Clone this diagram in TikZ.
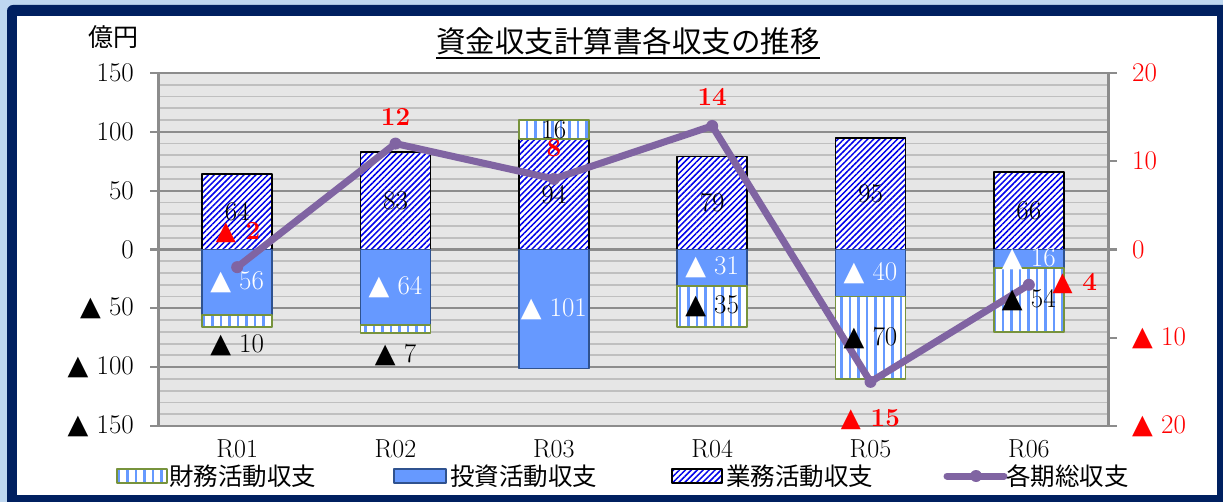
\documentclass[tikz,border=0pt]{standalone}
\usepackage{fontspec}
\usetikzlibrary{patterns.meta}
\newfontfamily\jpfont{Noto Sans CJK JP}
\newfontfamily\symfont{DejaVu Sans}
\newcommand\tri{{\symfont ▲}}
\newcommand\fsz[1]{\fontsize{#1}{#1}\selectfont}
\definecolor{navy}{RGB}{0,32,96}
\definecolor{glow}{RGB}{190,215,240}
\definecolor{plotbg}{RGB}{230,230,230}
\definecolor{minorgray}{RGB}{191,191,191}
\definecolor{majorgray}{RGB}{140,140,140}
\definecolor{invblue}{RGB}{102,153,255}
\definecolor{invedge}{RGB}{47,82,143}
\definecolor{fingreen}{RGB}{119,147,60}
\definecolor{hatchblue}{RGB}{0,0,235}
\definecolor{totpurple}{RGB}{128,100,162}
\begin{document}
\begin{tikzpicture}[x=1pt, y=-1pt, line join=round, font=\fsz{27},
	lax/.style={yshift=-249.5pt, y=1.17667pt},
	rax/.style={yshift=-249.5pt, y=8.825pt},
	minorgrid/.style={minorgray, line width=1.8pt},
	majorgrid/.style={majorgray, line width=2.2pt},
	bizbar/.style={preaction={fill=white}, pattern={Lines[angle=45,distance=4.2pt,line width=1.5pt]}, pattern color=hatchblue, draw=black, line width=1.8pt},
	invbar/.style={fill=invblue, draw=invedge, line width=1.5pt},
	finbar/.style={preaction={fill=white}, pattern={Lines[angle=90,distance=8.5pt,line width=2.5pt]}, pattern color=invblue, draw=fingreen, line width=1.8pt},
	totline/.style={totpurple, line width=7pt, line cap=round},
	legtext/.style={font=\jpfont\fsz{24.5}, anchor=west, inner sep=0pt},
	redlab/.style={text=red, font=\fsz{26}\bfseries}]
	\def\xl{158} \def\xr{1108} \def\cw{158.333} \def\bw{35} % plot area
	\useasboundingbox (0,0) rectangle (1223,502);
	\clip (0,0) rectangle (1223,502);
	% frame
	\fill[glow] (0,0) rectangle (1223,502);
	\fill[navy, rounded corners=6pt] (7,5) rectangle (1240,520);
	\fill[white] (17,16) rectangle (1217,495);
	\node[font=\jpfont\fsz{29.5}, inner sep=0pt] (title) at (628,41) {資金収支計算書各収支の推移};
	\draw[line width=1.8pt] ([yshift=-3pt]title.south west) -- ([yshift=-3pt]title.south east);
	\node[font=\jpfont\fsz{25}] (unit) at (113,37) {億円};
	% bars on the left axis
	\begin{scope}[lax]
		\fill[plotbg] (\xl,-150) rectangle (\xr,150);
		\foreach \v in {-140,-130,...,140}
		\draw[minorgrid] (\xl,\v) -- (\xr,\v);
		\foreach \v/\t in {150/150,100/100,50/50,0/0,-50/\tri{} 50,-100/\tri{} 100,-150/\tri{} 150}{
			\draw[majorgrid] (150,\v) -- (\xr,\v);
			\node[anchor=east, inner sep=0pt] (ly\v) at (134,\v) {\t};
		}
		\foreach \i/\b/\v/\f in {1/64/-56/-10,2/83/-64/-7,3/94/-101/16,4/79/-31/-35,5/95/-40/-70,6/66/-16/-54}{
			\pgfmathsetmacro\cx{\xl+(\i-0.5)*\cw}
			\pgfmathsetmacro\fb{\f<0 ? \v : \b}
			\pgfmathsetmacro\ft{\fb+\f}
			\path[bizbar] (\cx-\bw,0) rectangle (\cx+\bw,\b);
			\path[invbar] (\cx-\bw,0) rectangle (\cx+\bw,\v);
			\path[finbar] (\cx-\bw,\fb) rectangle (\cx+\bw,\ft);
		}
		\draw[majorgray, line width=3pt] (\xl,-150) -- (\xl,150) (\xr,-150) -- (\xr,150);
	\end{scope}
	% total on the right axis
	\begin{scope}[rax]
		\foreach \r/\t in {20/20,10/10,0/0,-10/\tri{} 10,-20/\tri{} 20}{
			\draw[majorgrid] (\xr,\r) -- (1117,\r);
			\node[anchor=west, inner sep=0pt, text=red] (ry\r) at (1132,\r) {\t};
		}
		\foreach \i/\s in {1/-2,2/12,3/8,4/14,5/-15,6/-4}
		\coordinate (p\i) at ({\xl+(\i-0.5)*\cw},\s);
		\draw[totline] (p1) -- (p2) -- (p3) -- (p4) -- (p5) -- (p6);
		\foreach \i in {1,...,6}
		\fill[totpurple] (p\i) circle (6pt);
		\foreach \i/\dx/\s/\t in {1/1/1.9/\tri{} 2,2/0/15/12,3/0/11.5/8,4/0/17.3/14,5/0/-19.3/\tri{} 15,6/46/-3.9/\tri{} 4}
		\node[redlab] (tl\i) at ({\xl+(\i-0.5)*\cw+\dx},\s) {\t};
	\end{scope}
	% data labels
	\begin{scope}[lax]
		\foreach \i/\b/\v/\vt/\fy/\ft in {1/64/-56/56/-81.2/\tri{} 10,2/83/-64/64/-89.7/\tri{} 7,3/94/-101/101/102/16,4/79/-31/31/-48.5/\tri{} 35,5/95/-40/40/-75/\tri{} 70,6/66/-16/16/-43/\tri{} 54}{
			\pgfmathsetmacro\cx{\xl+(\i-0.5)*\cw}
			\node (bl\i) at (\cx,\b/2) {\b};
			\node[text=white] (il\i) at (\cx,\v/2) {\tri{} \vt};
			\node (fl\i) at (\cx,\fy) {\ft};
		}
	\end{scope}
	% categories
	\foreach \i in {1,...,6}
	\node[font=\fsz{26}] (cat\i) at ({\xl+(\i-0.5)*\cw},449) {R0\i};
	% legend
	\path[finbar] (117,469) rectangle (167,483);
	\node[legtext] (leg1) at (169,476) {財務活動収支};
	\path[invbar] (394,469) rectangle (446,483);
	\node[legtext] (leg2) at (450,476) {投資活動収支};
	\path[bizbar] (672,469) rectangle (722,483);
	\node[legtext] (leg3) at (726,476) {業務活動収支};
	\draw[totline] (947,476) -- (1004,476);
	\fill[totpurple] (976,476) circle (6pt);
	\node[legtext] (leg4) at (1006,476) {各期総収支};
\end{tikzpicture}
\end{document}
